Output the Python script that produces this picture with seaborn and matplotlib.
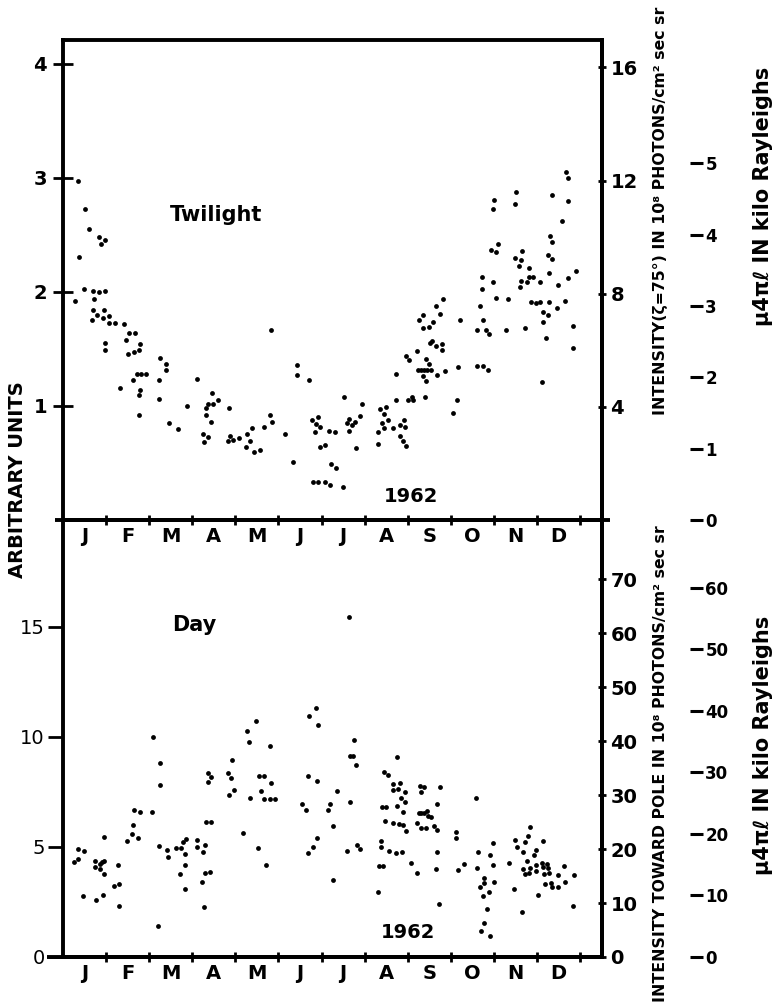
import numpy as np
import matplotlib
matplotlib.use("Agg")
import matplotlib.pyplot as plt
import seaborn as sns

sns.set_theme(style="white")
plt.rcParams['font.family'] = ['DejaVu Sans']
plt.rcParams['font.weight'] = 'bold'
for key in ("text.color", "axes.labelcolor", "xtick.color", "ytick.color", "axes.edgecolor"):
    plt.rcParams[key] = "black"

# ---------------- data (x = months since 1 Jan 1962, y = arbitrary units) -------------
month_labels = ["J", "F", "M", "A", "M", "J", "J", "A", "S", "O", "N", "D"]
year_label = "1962"

twilight_month = [
    0.34, 0.52, 0.61, 0.84, 0.97, 0.89, 0.36, 0.48, 0.70, 0.84,
    0.98, 0.72, 0.29, 0.70, 0.79, 0.68, 0.94, 0.93, 1.06, 1.07,
    1.21, 1.42, 1.54, 1.68, 1.47, 0.97, 0.97, 1.79, 1.52, 1.64,
    1.76, 1.71, 1.81, 1.92, 1.62, 1.79, 1.76, 1.33, 1.77, 2.26,
    2.38, 2.39, 2.23, 2.23, 2.46, 2.68, 2.87, 3.10, 3.46, 3.36,
    3.48, 3.60, 3.32, 3.33, 3.43, 3.26, 3.36, 3.28, 3.86, 3.87,
    3.84, 3.95, 4.09, 4.26, 4.39, 4.34, 4.25, 4.43, 4.58, 4.66,
    4.81, 4.86, 4.83, 5.15, 5.33, 5.42, 5.42, 5.70, 5.79, 5.93,
    5.87, 5.97, 5.85, 5.96, 6.09, 6.18, 6.21, 5.81, 5.92, 6.07,
    6.19,
    6.31, 6.33, 6.49, 6.52, 6.58, 6.64, 6.70, 6.77, 6.64, 6.79,
    6.89, 6.93, 7.30, 7.32, 7.35, 7.49, 7.45, 7.41, 7.45, 7.54,
    7.66, 7.74, 7.74, 7.82,
    7.91, 7.93, 7.83, 7.90, 7.95, 8.00, 8.09, 8.13, 8.41, 7.97,
    8.03, 8.22, 8.27, 8.36, 8.36, 8.49, 8.58, 8.65, 8.75, 8.82,
    8.52, 8.57, 8.65, 8.79, 8.80, 8.42, 8.49, 8.24, 8.32, 8.37,
    8.44, 8.54, 8.35, 8.42, 8.67, 8.87, 9.17, 9.22, 9.15, 9.06,
    9.62, 9.75, 9.86, 9.62, 9.81, 9.88, 9.74, 9.67, 9.73, 9.72,
    9.98, 10.06, 10.32, 10.29, 10.73, 9.94, 10.06, 10.10, 10.00, 9.98,
    10.51, 10.50, 10.50, 10.63, 10.65, 10.59, 10.62, 10.61, 10.81, 10.78,
    10.82, 10.92, 11.06, 10.86, 10.97, 11.08, 11.28, 11.14, 11.25, 11.14,
    11.21, 11.11, 11.46, 11.66, 11.48, 11.28, 11.73, 11.91, 11.26, 11.36,
    11.31, 11.36, 11.34, 11.59, 11.68, 11.73, 11.71, 11.83, 11.83,
]
twilight_value = [
    2.97, 2.73, 2.55, 2.48, 2.46, 2.42, 2.31, 2.03, 2.01, 2.00,
    2.01, 1.94, 1.92, 1.84, 1.80, 1.75, 1.84, 1.77, 1.79, 1.73,
    1.73, 1.72, 1.64, 1.64, 1.58, 1.55, 1.49, 1.54, 1.46, 1.47,
    1.49, 1.28, 1.28, 1.28, 1.23, 1.14, 1.10, 1.16, 0.92, 1.42,
    1.37, 1.32, 1.23, 1.06, 0.85, 0.80, 1.00, 1.24, 1.11, 1.02,
    1.02, 1.05, 0.98, 0.92, 0.86, 0.75, 0.73, 0.68, 0.98, 0.74,
    0.69, 0.70, 0.72, 0.75, 0.81, 0.69, 0.64, 0.60, 0.61, 0.82,
    0.92, 0.86, 1.67, 0.75, 0.51, 1.36, 1.27, 1.23, 0.88, 0.90,
    0.84, 0.82, 0.77, 0.64, 0.66, 0.78, 0.49, 0.33, 0.33, 0.33,
    0.31,
    0.77, 0.46, 0.29, 1.08, 0.85, 0.89, 0.83, 0.86, 0.78, 0.63,
    0.91, 1.02, 0.77, 0.67, 0.97, 0.99, 0.93, 0.85, 0.81, 0.88,
    0.81, 1.28, 1.05, 0.83,
    0.88, 0.82, 0.74, 0.69, 0.65, 1.05, 1.08, 1.05, 1.08, 1.44,
    1.40, 1.48, 1.75, 1.80, 1.68, 1.69, 1.74, 1.88, 1.81, 1.94,
    1.55, 1.57, 1.53, 1.54, 1.49, 1.41, 1.37, 1.32, 1.32, 1.32,
    1.32, 1.32, 1.26, 1.22, 1.27, 1.31, 1.34, 1.75, 1.05, 0.94,
    1.35, 1.35, 1.32, 1.67, 1.67, 1.63, 1.75, 1.88, 2.03, 2.13,
    2.09, 1.95, 1.94, 1.67, 1.68, 2.37, 2.35, 2.42, 2.81, 2.73,
    2.88, 2.77, 2.30, 2.28, 2.36, 2.23, 2.10, 2.04, 2.21, 2.09,
    2.13, 2.13, 2.09, 1.91, 1.90, 1.91, 1.91, 1.82, 1.80, 1.74,
    1.60, 1.21, 1.86, 1.92, 2.06, 2.17, 2.12, 2.18, 2.32, 2.29,
    2.49, 2.44, 2.85, 2.62, 3.05, 3.00, 2.80, 1.70, 1.51,
]

day_month = [
    0.25, 0.35, 0.34, 0.48, 0.46, 0.75, 0.75, 0.85, 0.90, 0.94,
    0.87, 0.94, 0.95, 0.77, 0.92, 1.28, 1.18, 1.31, 1.31, 1.49,
    1.61, 1.74, 1.62, 1.65, 1.79, 2.06, 2.10, 2.24, 2.24, 2.23,
    2.20, 2.42, 2.43, 2.62, 2.73, 2.78, 2.86, 2.82, 2.83, 2.71,
    2.82, 3.12, 3.12, 3.26, 3.30, 3.29, 3.41, 3.23, 3.28, 3.33,
    3.43, 3.36, 3.43, 3.37, 3.84, 3.90, 3.92, 3.97, 3.85, 4.18,
    4.27, 4.32, 4.47, 4.56, 4.66, 4.81, 4.83, 4.59, 4.34, 4.67,
    4.80, 4.93, 4.52, 4.71, 5.55, 5.64, 5.68, 5.89, 5.72, 5.88,
    5.92, 5.90, 5.80, 5.68, 6.15, 6.19, 6.26, 6.26, 6.64, 6.76,
    6.66, 6.73, 6.81, 6.67, 6.37, 6.60, 6.83, 6.90, 7.30, 7.34,
    7.43, 7.38, 7.38, 7.56, 7.73, 7.87, 7.45, 7.54, 7.40, 7.50,
    7.48, 7.67, 7.83, 7.65, 7.77, 7.93, 7.75, 7.76, 7.94, 7.85,
    7.88, 7.67, 7.80, 7.90, 7.96, 8.07, 8.22, 8.21, 8.30, 8.42,
    8.28, 8.39, 8.32, 8.26, 8.32, 8.38, 8.45, 8.46, 8.55, 8.60,
    8.68, 8.68, 8.75, 8.69, 8.66, 8.72, 9.13, 9.13, 9.17, 9.30,
    9.58, 9.64, 9.60, 9.90, 9.99, 9.97, 9.78, 9.78, 9.68, 9.75,
    9.88, 10.00, 9.85, 9.78, 9.71, 9.92, 10.36, 10.46, 10.50, 10.53,
    10.72, 10.80, 10.84, 10.67, 10.77, 10.94, 10.98, 11.14, 10.67, 10.72,
    10.82, 10.83, 10.98, 10.97, 10.66, 11.03, 11.11, 11.14, 11.24, 11.26,
    11.17, 11.28, 11.19, 11.32, 11.35, 11.48, 11.48, 11.62, 11.65, 11.87,
    11.84,
]
day_value = [
    4.33, 4.44, 4.92, 4.83, 2.77, 4.35, 4.11, 4.21, 4.33, 4.38,
    3.98, 3.77, 5.45, 2.59, 2.82, 4.17, 3.24, 3.30, 2.32, 5.26,
    5.59, 5.41, 6.02, 6.68, 6.58, 6.59, 9.98, 8.80, 7.82, 5.05,
    1.41, 4.88, 4.56, 4.97, 4.95, 5.21, 5.36, 4.70, 4.20, 3.77,
    3.11, 5.32, 5.02, 4.79, 5.08, 3.83, 3.88, 3.41, 2.26, 6.12,
    6.15, 8.36, 8.20, 7.94, 8.35, 8.15, 8.94, 7.59, 7.35, 5.65,
    10.27, 9.79, 10.71, 8.24, 8.24, 9.61, 7.92, 7.56, 7.23, 7.17,
    7.20, 7.20, 4.97, 4.17, 6.97, 6.68, 8.23, 8.00, 10.94, 11.32,
    10.56, 5.41, 4.98, 4.74, 6.67, 6.97, 5.95, 3.50, 15.44, 9.88,
    9.15, 9.15, 8.71, 7.06, 7.55, 4.80, 5.09, 4.92, 2.94, 4.15,
    4.15, 5.00, 5.27, 4.83, 4.71, 4.76, 8.42, 8.26, 6.83, 6.83,
    6.17, 7.86, 7.92, 7.59, 7.62, 7.52, 9.09, 6.88, 7.03, 7.24,
    6.58, 6.11, 6.06, 5.98, 5.74, 4.29, 3.83, 6.08, 5.88, 5.88,
    7.77, 7.74, 7.52, 6.53, 6.53, 6.53, 6.65, 6.41, 6.38, 5.95,
    5.77, 6.97, 7.74, 4.76, 3.98, 2.39, 5.67, 5.42, 3.94, 4.24,
    7.21, 4.76, 4.03, 4.62, 5.20, 4.18, 3.61, 3.35, 3.17, 2.79,
    2.95, 3.42, 2.17, 1.56, 1.18, 0.94, 4.26, 3.09, 5.30, 4.98,
    5.21, 5.48, 5.92, 4.76, 4.35, 4.64, 4.88, 5.29, 4.02, 3.77,
    3.80, 4.05, 3.92, 4.18, 2.06, 2.82, 4.29, 4.11, 4.23, 4.03,
    3.76, 3.80, 3.32, 3.38, 3.17, 3.18, 3.74, 4.15, 3.41, 3.74,
    2.33,
]

# axis scale relations
twi_left_ticks = [1, 2, 3, 4]
twi_right_ticks = [4, 8, 12, 16]
twi_kr_ticks = [0, 1, 2, 3, 4, 5]
day_left_ticks = [0, 5, 10, 15]
day_right_ticks = [0, 10, 20, 30, 40, 50, 60, 70]
day_kr_ticks = [0, 10, 20, 30, 40, 50, 60]
TWI_YMAX, DAY_YMAX = 4.21, 19.86
TWI_PHOT, DAY_PHOT = 4.03, 4.08      # photons scale / arbitrary units
TWI_KR, DAY_KR = 1 / 0.626, 3.577     # kilo Rayleigh scale / arbitrary units
XMAX = 12.51

# ---------------- figure -------------
W, H = 774, 1007
fig = plt.figure(figsize=(W / 100, H / 100), dpi=100)
fig.patch.set_facecolor("white")
L, R = 63, 602
ax1 = fig.add_axes([L / W, 1 - 520 / H, (R - L) / W, 480 / H])
ax2 = fig.add_axes([L / W, 1 - 957 / H, (R - L) / W, 437 / H])
for ax in (ax1, ax2):
    ax.patch.set_visible(False)

sns.scatterplot(x=twilight_month, y=twilight_value, ax=ax1, color="black",
                s=12, linewidth=0, legend=False)
sns.scatterplot(x=day_month, y=day_value, ax=ax2, color="black",
                s=12, linewidth=0, legend=False)

LW = 2.8
for ax in (ax1, ax2):
    ax.set_xlim(0, XMAX)
    ax.set_xticks(np.arange(1, 13))
    ax.set_xticklabels([])
    ax.set_xticks(np.arange(12) + 0.5, minor=True)
    ax.set_xticklabels(month_labels, minor=True, fontsize=14, fontweight="bold")
    ax.tick_params(axis="x", which="major", direction="inout", length=7,
                   width=2, bottom=True, color="black")
    ax.tick_params(axis="x", which="minor", length=0, pad=5, bottom=True)
    ax.set_xlabel("")
    ax.set_ylabel("")
    ax.grid(False)
    for sp in ax.spines.values():
        sp.set_linewidth(LW)
        sp.set_color("black")
ax2.spines["top"].set_visible(False)

ax1.set_ylim(0, TWI_YMAX)
ax1.set_yticks(twi_left_ticks)
ax1.set_yticklabels([str(t) for t in twi_left_ticks], fontsize=14, fontweight="bold")
ax1.tick_params(axis="y", direction="inout", length=15, width=2, left=True, pad=4)

ax2.set_ylim(0, DAY_YMAX)
ax2.set_yticks(day_left_ticks)
ax2.set_yticklabels([str(t) for t in day_left_ticks], fontsize=14, fontweight="normal")
ax2.tick_params(axis="y", direction="out", length=11, width=2, left=True, pad=2)

# extended baseline strokes
ax1.plot([-0.015, 1.015], [0, 0], transform=ax1.transAxes, color="black",
         lw=LW, clip_on=False, solid_capstyle="butt")
ax2.plot([-0.03, 1.0], [0, 0], transform=ax2.transAxes, color="black",
         lw=LW, clip_on=False, solid_capstyle="butt")
ax1.set_xlim(0, XMAX)
ax2.set_xlim(0, XMAX)

# photon-intensity right axes
def right_axis(ax, ymax, ticks, size):
    r = ax.twinx()
    r.set_ylim(0, ymax)
    r.set_yticks(ticks)
    r.set_yticklabels([str(t) for t in ticks], fontsize=size, fontweight="bold")
    r.tick_params(axis="y", direction="inout", length=6, width=2, right=True, pad=3)
    for k, sp in r.spines.items():
        sp.set_visible(k == "right")
        sp.set_linewidth(LW)
        sp.set_color("black")
    r.grid(False)
    return r

right_axis(ax1, TWI_YMAX * TWI_PHOT, twi_right_ticks, 14)
right_axis(ax2, DAY_YMAX * DAY_PHOT, day_right_ticks, 14)

# kilo-Rayleigh scales
def kr_axis(ax, ymax, ticks):
    k = ax.twinx()
    k.spines["right"].set_position(("axes", (690 - L) / (R - L)))
    for sp in k.spines.values():
        sp.set_visible(False)
    k.set_ylim(0, ymax)
    k.set_yticks(ticks)
    k.set_yticklabels([str(t) for t in ticks], fontsize=12, fontweight="bold")
    k.tick_params(axis="y", direction="out", length=9, width=2.2, right=True, pad=2)
    k.grid(False)
    return k

kr_axis(ax1, TWI_YMAX * TWI_KR, twi_kr_ticks)
kr_axis(ax2, DAY_YMAX * DAY_KR, day_kr_ticks)

# in-panel annotations
ax1.text((170 - L) / (R - L), (520 - 215) / 480, "Twilight", transform=ax1.transAxes,
         fontsize=15, fontweight="bold", ha="left", va="center")
ax1.text((384 - L) / (R - L), (520 - 497) / 480, year_label, transform=ax1.transAxes,
         fontsize=14, fontweight="bold", ha="left", va="center")
ax2.text((172 - L) / (R - L), (957 - 625) / 437, "Day", transform=ax2.transAxes,
         fontsize=15, fontweight="bold", ha="left", va="center")
ax2.text((381 - L) / (R - L), (957 - 933) / 437, year_label, transform=ax2.transAxes,
         fontsize=14, fontweight="bold", ha="left", va="center")

# axis titles
fig.text(18 / W, 1 - 480 / H, "ARBITRARY UNITS", rotation=90, ha="center", va="center",
         fontsize=14, fontweight="bold")
fig.text(660 / W, 1 - 211 / H, "INTENSITY(ζ=75°) IN 10⁸ PHOTONS/cm² sec sr",
         rotation=90, ha="center", va="center", fontsize=11.3, fontweight="bold")
fig.text(660 / W, 1 - 764 / H, "INTENSITY TOWARD POLE IN 10⁸ PHOTONS/cm² sec sr",
         rotation=90, ha="center", va="center", fontsize=11.3, fontweight="bold")
fig.text(763 / W, 1 - 196 / H, "μ4πℓ IN kilo Rayleighs", rotation=90,
         ha="center", va="center", fontsize=15, fontweight="bold")
fig.text(763 / W, 1 - 745 / H, "μ4πℓ IN kilo Rayleighs", rotation=90,
         ha="center", va="center", fontsize=15, fontweight="bold")

fig.savefig("out.png", dpi=100, facecolor="white")
